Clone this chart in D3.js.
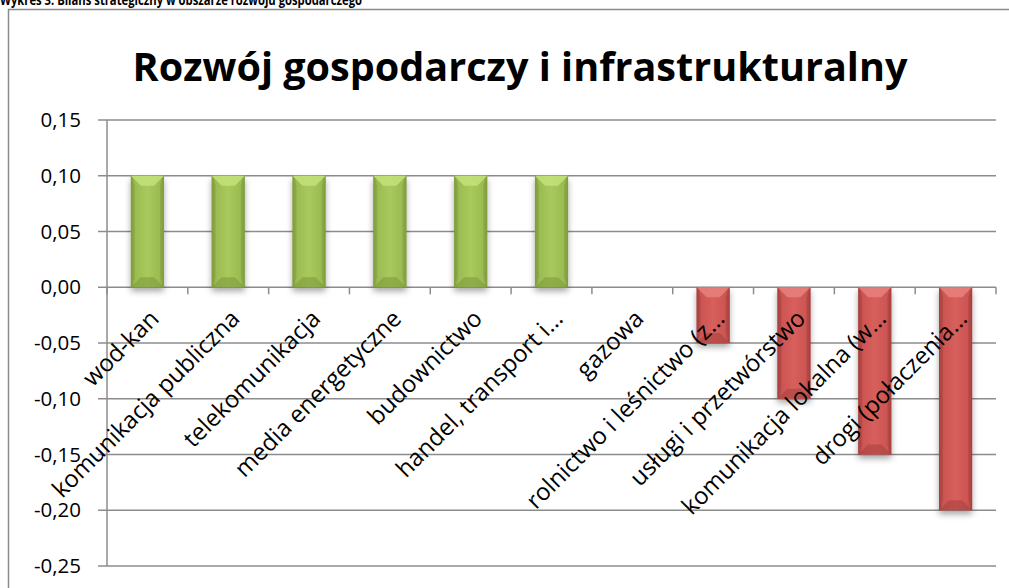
<!DOCTYPE html>
<html><head><meta charset="utf-8">
<script src="https://cdn.jsdelivr.net/npm/d3@7"></script>
<style>body{margin:0;background:#fff}svg{display:block}</style>
</head><body>
<script>
const categories = ["wod-kan","komunikacja publiczna","telekomunikacja","media energetyczne","budownictwo","handel, transport i…","gazowa","rolnictwo i leśnictwo (z…","usługi i przetwórstwo","komunikacja lokalna (w…","drogi (połaczenia…"];
const values = [0.10,0.10,0.10,0.10,0.10,0.10,0.00,-0.05,-0.10,-0.15,-0.20];
const yTicks = [0.15,0.10,0.05,0.00,-0.05,-0.10,-0.15,-0.20,-0.25];
const titleText = "Rozwój gospodarczy i infrastrukturalny";
const captionText = "Wykres 3. Bilans strategiczny w obszarze rozwoju gospodarczego";

const W = 1009, H = 588;
const svg = d3.select("body").append("svg").attr("width", W).attr("height", H);
const font = "Open Sans, Liberation Sans, sans-serif";

const defs = svg.append("defs");
function grad(id, dark, mid, light) {
  const g = defs.append("linearGradient").attr("id", id).attr("x1", 0).attr("x2", 1).attr("y1", 0).attr("y2", 0);
  g.append("stop").attr("offset", 0).attr("stop-color", dark);
  g.append("stop").attr("offset", 0.12).attr("stop-color", mid);
  g.append("stop").attr("offset", 0.5).attr("stop-color", light);
  g.append("stop").attr("offset", 0.88).attr("stop-color", mid);
  g.append("stop").attr("offset", 1).attr("stop-color", dark);
}
grad("gGreen", "#7e9a3c", "#9bbb52", "#a8c95c");
grad("gRed", "#a33f3c", "#cc5552", "#d75f5c");
const f = defs.append("filter").attr("id", "shadow").attr("x", "-30%").attr("y", "-30%").attr("width", "160%").attr("height", "160%");
f.append("feDropShadow").attr("dx", 0).attr("dy", 4).attr("stdDeviation", 3).attr("flood-color", "#000").attr("flood-opacity", 0.35);

// caption (cut at top, as in the reference)
svg.append("text").attr("x", 0).attr("y", 5).attr("font-family", font).attr("font-weight", "bold")
  .attr("font-size", 15).attr("textLength", 362).attr("lengthAdjust", "spacingAndGlyphs").text(captionText);

// frame
svg.append("rect").attr("x", 8.5).attr("y", 9.5).attr("width", 1030).attr("height", 600)
  .attr("fill", "#fff").attr("stroke", "#8a8a8a").attr("stroke-width", 1.5);

// title
const t = svg.append("text").attr("x", 520).attr("y", 81).attr("text-anchor", "middle")
  .attr("font-family", font).attr("font-weight", "bold").attr("font-size", 38).text(titleText);
const tw = t.node().getComputedTextLength();
t.attr("font-size", 38 * 775 / tw);

const x0 = 107, x1 = 996;
const x = d3.scaleBand().domain(categories).range([x0, x1]).padding(0);
const y = d3.scaleLinear().domain([-0.25, 0.15]).range([566, 120]);
const fmt = d => d3.format(".2f")(d).replace(".", ",").replace("−", "-");

// gridlines
svg.append("g").selectAll("line").data(yTicks).join("line")
  .attr("x1", x0 - 9).attr("x2", x1).attr("y1", d => y(d)).attr("y2", d => y(d))
  .attr("stroke", "#8c8c8c").attr("stroke-width", 1.5);
// y axis line
svg.append("line").attr("x1", x0).attr("x2", x0).attr("y1", y(0.15)).attr("y2", y(-0.25))
  .attr("stroke", "#8c8c8c").attr("stroke-width", 1.5);
// y labels
svg.append("g").selectAll("text").data(yTicks).join("text")
  .attr("x", 81).attr("y", d => y(d)).attr("dy", "0.35em").attr("text-anchor", "end")
  .attr("font-family", font).attr("font-size", 20.5).attr("fill", "#000").text(fmt);

// category ticks on zero line
const tickXs = categories.map(c => x(c)).concat([x1]);
svg.append("g").selectAll("line").data(tickXs).join("line")
  .attr("x1", d => d).attr("x2", d => d).attr("y1", y(0)).attr("y2", y(0) + 7)
  .attr("stroke", "#8c8c8c").attr("stroke-width", 1.5);

// bars
const bw = x.bandwidth() * 0.41;
const bars = svg.append("g").selectAll("g").data(categories.map((c, i) => ({c, v: values[i]}))).join("g")
  .filter(d => d.v !== 0);
bars.each(function(d) {
  const g = d3.select(this);
  const cx = x(d.c) + x.bandwidth() / 2;
  const top = y(Math.max(0, d.v)), bot = y(Math.min(0, d.v));
  const pos = d.v > 0;
  g.append("rect").attr("x", cx - bw / 2).attr("y", top).attr("width", bw).attr("height", bot - top)
    .attr("fill", pos ? "url(#gGreen)" : "url(#gRed)").attr("filter", "url(#shadow)");
  const b = 10;
  g.append("path").attr("d", `M${cx - bw/2},${top} L${cx + bw/2},${top} L${cx + bw/2 - b},${top + b} L${cx - bw/2 + b},${top + b} Z`)
    .attr("fill", pos ? "#c4e27a" : "#e8817e").attr("opacity", 0.85);
  g.append("path").attr("d", `M${cx - bw/2},${bot} L${cx + bw/2},${bot} L${cx + bw/2 - b},${bot - b} L${cx - bw/2 + b},${bot - b} Z`)
    .attr("fill", pos ? "#7f9b3d" : "#a8433f").attr("opacity", 0.6);
  g.append("path").attr("d", `M${cx - bw/2},${top} L${cx - bw/2 + b*0.4},${top + b} L${cx - bw/2 + b*0.4},${bot - b} L${cx - bw/2},${bot} Z`)
    .attr("fill", pos ? "#809d3f" : "#a8423f").attr("opacity", 0.5);
  g.append("path").attr("d", `M${cx + bw/2},${top} L${cx + bw/2 - b*0.4},${top + b} L${cx + bw/2 - b*0.4},${bot - b} L${cx + bw/2},${bot} Z`)
    .attr("fill", pos ? "#809d3f" : "#a8423f").attr("opacity", 0.5);
});

// category labels
const lab = svg.append("g").selectAll("text").data(categories).join("text")
  .attr("font-family", font).attr("font-size", 19).attr("text-anchor", "end").attr("dy", "0.35em")
  .attr("transform", c => `translate(${x(c) + x.bandwidth() / 2 + 7},${y(0) + 27}) rotate(-45)`)
  .text(c => c);
const ref = lab.filter(c => c === "budownictwo").node().getComputedTextLength();
lab.attr("font-size", 19 * 150 / ref);
</script>
</body></html>
